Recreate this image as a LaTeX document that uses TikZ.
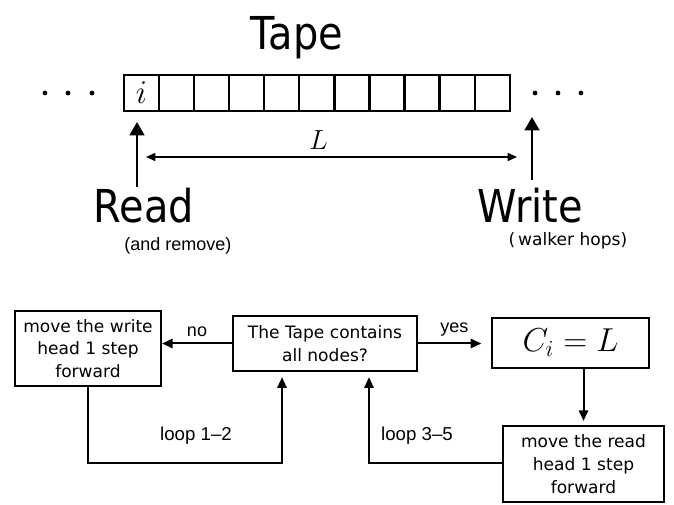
\documentclass[tikz,border=0pt]{standalone}
\usepackage{fontspec}
\setmainfont{Liberation Sans}
\newfontfamily\headfont[FakeStretch=0.88]{DejaVu Sans}
\newfontfamily\boxfont{DejaVu Sans}
\usetikzlibrary{positioning, arrows.meta}

\begin{document}
\begin{tikzpicture}[
    x=0.75pt, y=-0.75pt,
    cell/.style={rectangle, draw, line width=1.7pt, minimum width=26.3pt, minimum height=27pt, inner sep=0pt, outer sep=0pt},
    head/.style={font=\headfont\fontsize{34}{40}\selectfont, inner sep=0pt, anchor=base},
    note/.style={font=\fontsize{13.5}{16}\selectfont, inner sep=0pt},
    box/.style={rectangle, draw, line width=1.6pt, align=center, font=\boxfont\fontsize{12.8}{17}\selectfont, inner sep=0pt},
    bigarrow/.style={-{Triangle[length=10pt, width=11pt]}, line width=1.9pt},
    arrow/.style={-{Triangle[length=8pt, width=7pt]}, line width=1.5pt},
]
\useasboundingbox (0,0) rectangle (674,505);

% Tape with its cells
\node[head] (title) at (297,50) {Tape};
\node[cell, font=\fontsize{26}{26}\selectfont] (c1) at (141.5,93) {$i$};
\foreach \k [remember=\k as \prev (initially 1)] in {2,...,11}
    \node[cell, right=0pt of c\prev] (c\k) {};
\foreach \x in {45,68,92,535,558,581}
    \fill (\x,93) circle (1.8pt);

% Heads
\node[head] (read) at (144,223) {Read};
\node[head] (write) at (530,223) {Write};
\node[note] (readnote) at (178,246) {(and remove)};
\node[note, font=\boxfont\fontsize{12.8}{15}\selectfont] (writenote) at (568,241) {(\,walker hops)};
\coordinate (rtip) at (137,122);
\coordinate (wtip) at (532,117);
\coordinate (lleft) at (146,157);
\coordinate (lright) at (517,157);

\draw[bigarrow] (rtip |- 0,187) -- (rtip);
\draw[bigarrow] (wtip |- 0,180) -- (wtip);
\draw[{Triangle[length=7pt, width=6pt]}-{Triangle[length=7pt, width=6pt]}, line width=1.2pt]
    (lleft) -- node[pos=0.465, above=2pt, font=\fontsize{21}{21}\selectfont] (len) {$L$} (lright);

% Flow chart
\node[box, minimum width=109.5pt, minimum height=56pt] (movew) at (88,348.5) {move the write\\head 1 step\\forward};
\node[box, minimum width=138pt, minimum height=41pt] (check) at (325,343.5) {The Tape contains\\all nodes?};
\node[box, line width=1.8pt, minimum width=118pt, minimum height=37.5pt, font=\fontsize{26}{26}\selectfont] (done) at (570.5,343) {$C_i = L$};
\node[box, minimum width=121pt, minimum height=57pt] (mover) at (583.5,464) {move the read\\head 1 step\\forward};

\coordinate (l12) at (282,463);
\coordinate (l35) at (369,463);

% Arrows
\draw[arrow] (check.west) -- node[above=4pt, note] (no) {no} (check.west -| movew.east);
\draw[arrow, shorten >=7pt] (check.east) -- node[above=5pt, note] (yes) {yes} (check.east -| done.west);
\draw[arrow, shorten >=3pt] (mover.north |- done.south) -- (mover.north);
\draw[arrow, shorten >=4pt] (movew.south) |- (l12) -- (l12 |- check.south);
\draw[arrow, shorten >=4pt] (l35 -| mover.west) -- (l35) -- (l35 |- check.south);

% Loop labels
\node[note, font=\fontsize{14}{16}\selectfont] (loopa) at (196,436) {loop 1--2};
\node[note, font=\fontsize{14}{16}\selectfont] (loopb) at (417,436) {loop 3--5};

\end{tikzpicture}
\end{document}
